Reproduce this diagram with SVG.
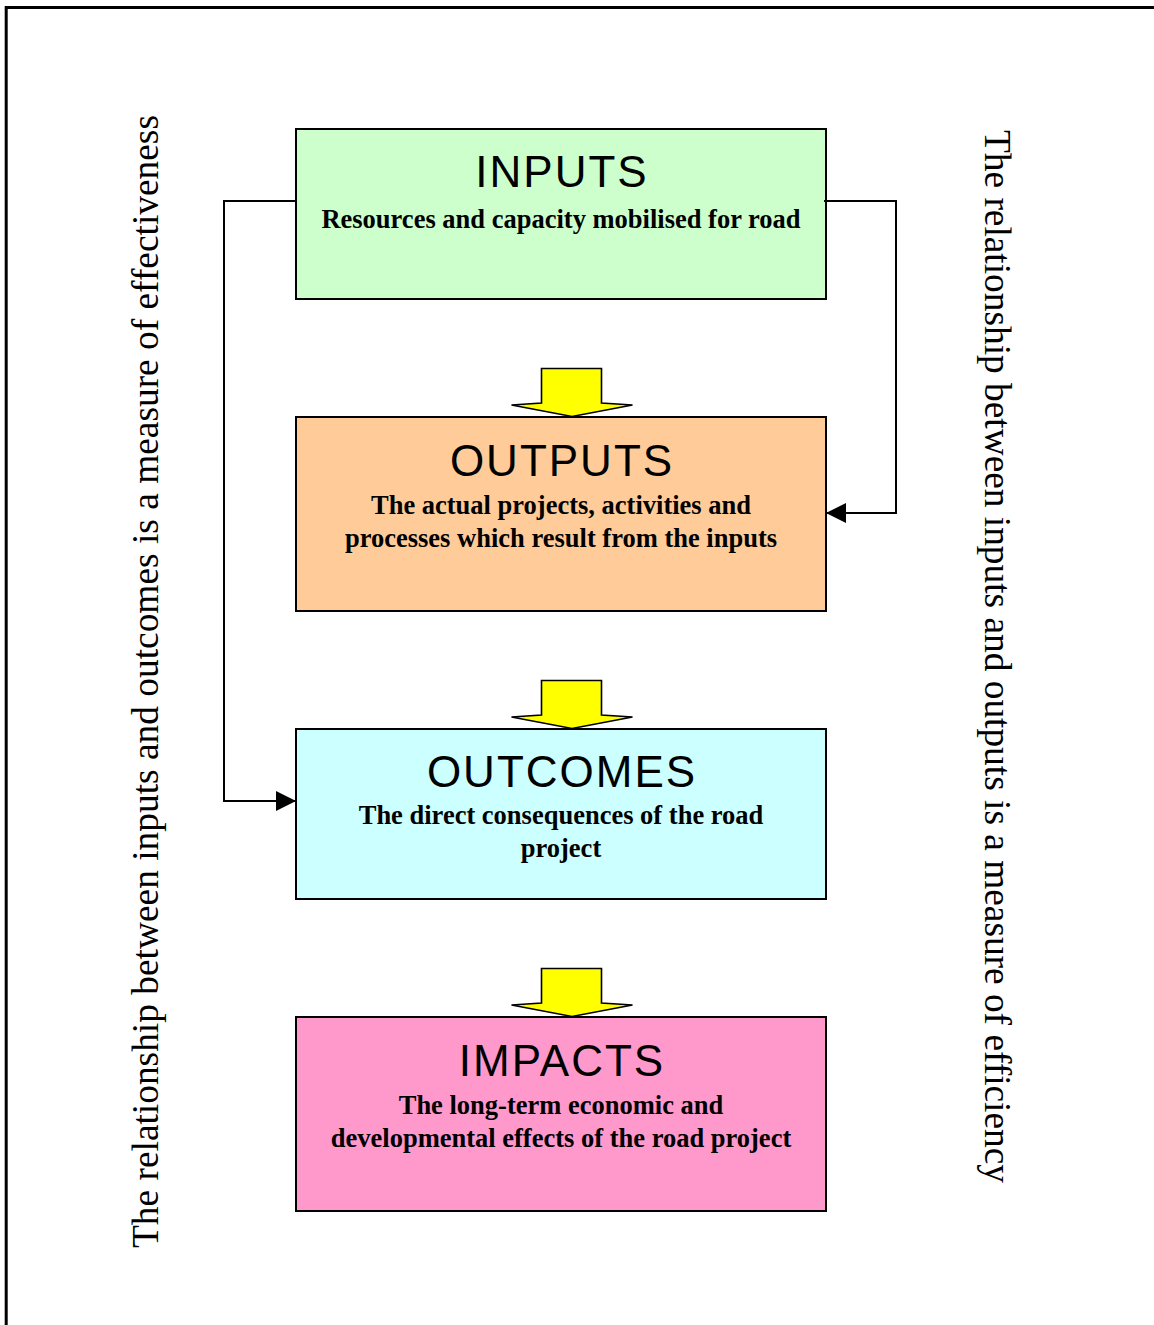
<svg xmlns="http://www.w3.org/2000/svg" width="1154" height="1325" viewBox="0 0 1154 1325">
<style>
.box{stroke:#000;stroke-width:2}
.title{font-family:"Liberation Sans",Arial,sans-serif;font-size:44px;letter-spacing:2px;text-anchor:middle;fill:#000}
.sub{font-family:"Liberation Serif","Times New Roman",serif;font-size:26.5px;font-weight:bold;text-anchor:middle;fill:#000}
.side{font-family:"Liberation Serif","Times New Roman",serif;font-size:37.4px;fill:#000}
.conn{fill:none;stroke:#000;stroke-width:2}
.flow{fill:#FFFF00;stroke:#000;stroke-width:1.6;stroke-linejoin:miter}
</style>
<defs>
<marker id="ah" markerUnits="userSpaceOnUse" markerWidth="20" markerHeight="20" refX="20" refY="10" orient="auto">
<path d="M0,0 L20,10 L0,20 z" fill="#000"/>
</marker>
<polygon id="yarrow" class="flow" points="541.5,368.5 601.5,368.5 601.5,403 632.5,405 572,416.5 511.5,405 541.5,403"/>
</defs>
<rect x="0" y="0" width="1154" height="1325" fill="#fff"/>
<path d="M6.2,1330 V7.5 H1160" fill="none" stroke="#000" stroke-width="3"/>

<g id="inputs">
<rect class="box" x="296" y="129" width="530" height="170" fill="#CCFFCC"/>
<text class="title" x="562" y="187">INPUTS</text>
<text class="sub" x="561" y="228">Resources and capacity mobilised for road</text>
</g>
<g id="outputs">
<rect class="box" x="296" y="417" width="530" height="194" fill="#FFCC99"/>
<text class="title" x="562" y="475.5">OUTPUTS</text>
<text class="sub" x="561" y="513.5">The actual projects, activities and</text>
<text class="sub" x="561" y="546.5">processes which result from the inputs</text>
</g>
<g id="outcomes">
<rect class="box" x="296" y="729" width="530" height="170" fill="#CCFFFF"/>
<text class="title" x="562" y="787">OUTCOMES</text>
<text class="sub" x="561" y="824">The direct consequences of the road</text>
<text class="sub" x="561" y="857">project</text>
</g>
<g id="impacts">
<rect class="box" x="296" y="1017" width="530" height="194" fill="#FF99CC"/>
<text class="title" x="562" y="1076">IMPACTS</text>
<text class="sub" x="561" y="1113.5">The long-term economic and</text>
<text class="sub" x="561" y="1146.5">developmental effects of the road project</text>
</g>

<g id="connectors">
<use href="#yarrow"/>
<use href="#yarrow" transform="translate(0,312)"/>
<use href="#yarrow" transform="translate(0,600)"/>
<path class="conn" d="M296,201 H224 V801 H296" marker-end="url(#ah)"/>
<path class="conn" d="M824,201 H896 V513 H826" marker-end="url(#ah)"/>
</g>

<g id="label-effectiveness">
<text class="side" transform="translate(158,1248) rotate(-90)" textLength="1133" lengthAdjust="spacing">The relationship between inputs and outcomes is a measure of effectiveness</text>
</g>
<g id="label-efficiency">
<text class="side" transform="translate(985,130) rotate(90)" textLength="1053" lengthAdjust="spacing">The relationship between inputs and outputs is a measure of efficiency</text>
</g>
</svg>
